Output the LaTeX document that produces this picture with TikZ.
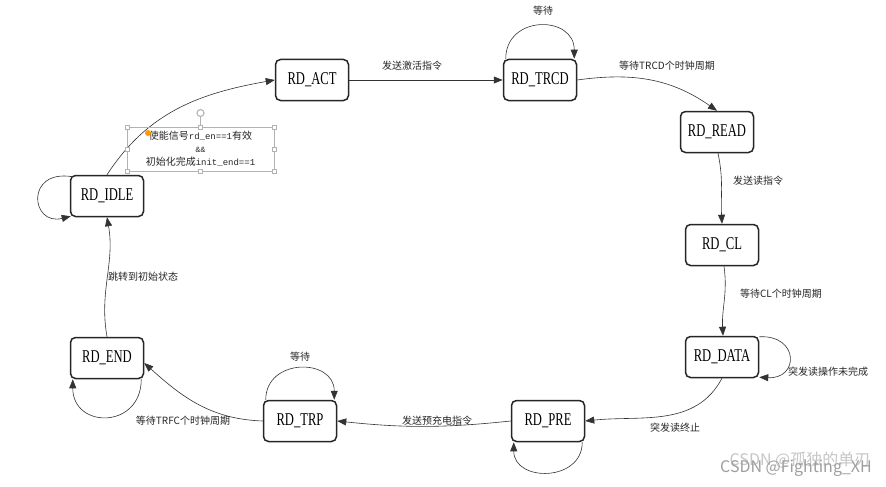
\documentclass[tikz,border=0pt]{standalone}
\usepackage{fontspec}
\usetikzlibrary{arrows.meta}
\newfontfamily\statefont[FakeStretch=0.7]{Liberation Serif}
\newfontfamily\cjk{Noto Sans CJK SC}
\newfontfamily\monof{Liberation Mono}
\begin{document}
\begin{tikzpicture}[x=1pt,y=1pt,
  state/.style={draw=black!85, line width=1.5pt, rounded corners=5pt,
    minimum width=73pt, minimum height=41pt, inner sep=0pt,
    font=\statefont\fontsize{18}{20}\selectfont},
  edge/.style={draw=black!80, line width=0.6pt, -{Triangle[length=9pt,width=7pt]}},
  lbl/.style={font=\cjk\fontsize{10}{12}\selectfont, inner sep=1pt, text=black!85},
  handle/.style={draw=gray!60, fill=white, line width=0.5pt}]
\useasboundingbox (0,0) rectangle (886,-487);
\fill[white] (0,0) rectangle (886,-487);

% states
\node[state] (act)  at (312,-80)  {RD\_ACT};
\node[state] (trcd) at (540,-80)  {RD\_TRCD};
\node[state] (read) at (717,-132) {RD\_READ};
\node[state] (cl)   at (722,-245) {RD\_CL};
\node[state] (data) at (722,-357) {RD\_DATA};
\node[state] (pre)  at (548,-421) {RD\_PRE};
\node[state] (trp)  at (300,-421) {RD\_TRP};
\node[state] (endn) at (107,-358) {RD\_END};
\node[state] (idle) at (107,-196) {RD\_IDLE};

% transitions
\draw[edge] (idle.north) to[out=57,in=190] (act.west);
\draw[edge] (act.east) -- (trcd.west);
\draw[edge] ([xshift=3pt]trcd.north west) .. controls +(0,44) and +(0,44) .. ([xshift=-3pt]trcd.north east);
\draw[edge] (trcd.east) to[out=8,in=145] (read.north);
\draw[edge] ([xshift=1pt]read.south) to[out=-78,in=93] (cl.north);
\draw[edge] ([xshift=2pt]cl.south) to[out=-82,in=93] ([xshift=1pt]data.north);
\draw[edge] ([yshift=-1pt]data.north east) .. controls +(40,2) and +(40,-2) .. ([yshift=1pt]data.south east);
\draw[edge] (data.south) to[out=-118,in=6] (pre.east);
\draw[edge] ([xshift=-3pt]pre.south east) .. controls +(0,-40) and +(0,-40) .. ([xshift=3pt]pre.south west);
\draw[edge] (pre.west) to[out=186,in=-6] (trp.east);
\draw[edge] ([xshift=3pt]trp.north west) .. controls +(0,42) and +(0,42) .. ([xshift=-3pt]trp.north east);
\draw[edge] (trp.west) to[out=178,in=-42] ([yshift=-5pt]endn.east);
\draw[edge] ([xshift=-3pt]endn.south east) .. controls +(0,-50) and +(0,-50) .. ([xshift=3pt]endn.south west);
\draw[edge] (endn.north) to[out=100,in=-80] (idle.south);
\draw[edge] ([shift={(3,-2)}]idle.north west) .. controls +(-48,8) and +(-40,-10) .. ([shift={(1,1)}]idle.south west);

% labels
\node[lbl] (l1) at (412,-66) {发送激活指令};
\node[lbl] (l2) at (543,-11) {等待};
\node[lbl] (l3) at (667,-66) {等待TRCD个时钟周期};
\node[lbl] (l4) at (758,-181) {发送读指令};
\node[lbl] (l5) at (781,-294) {等待CL个时钟周期};
\node[lbl] (l6) at (828,-372) {突发读操作未完成};
\node[lbl] (l7) at (675,-428) {突发读终止};
\node[lbl] (l8) at (437,-421) {发送预充电指令};
\node[lbl] (l9) at (300,-357) {等待};
\node[lbl] (l10) at (183,-421) {等待TRFC个时钟周期};
\node[lbl] (l11) at (143,-277) {跳转到初始状态};

% condition label with selection frame
\node[draw=gray!60, line width=0.5pt, minimum width=147pt, minimum height=44pt,
      inner sep=0pt, align=center, font=\cjk\fontsize{10}{13}\selectfont, text=black!85]
  (cond) at (200.5,-149)
  {使能信号{\monof\fontsize{9}{13}\selectfont rd\_en==1}有效\\
   {\monof\fontsize{8}{13}\selectfont \&\&}\\
   初始化完成{\monof\fontsize{9}{13}\selectfont init\_end==1}};
\draw[gray!60, line width=0.5pt] (cond.north) -- ++(0,10);
\draw[gray!55, line width=1.2pt] (200.5,-113) circle (3.5);
\foreach \a in {north west,north,north east,east,south east,south,south west,west}
  \draw[handle] ([shift={(-2,-2)}]cond.\a) rectangle +(4,4);
\fill[orange!80!yellow] (148,-133) circle (3);

% watermark (two overlapping marks, as in the reference)
\node[font=\cjk\fontsize{16}{18}\selectfont, text=gray!45, inner sep=0pt] (wm1) at (800,-460) {CSDN @孤独的单刃};
\node[font=\cjk\fontsize{16}{18}\selectfont, text=gray!75, inner sep=0pt] (wm2) at (796,-468) {CSDN @Fighting\_XH};
\end{tikzpicture}
\end{document}
